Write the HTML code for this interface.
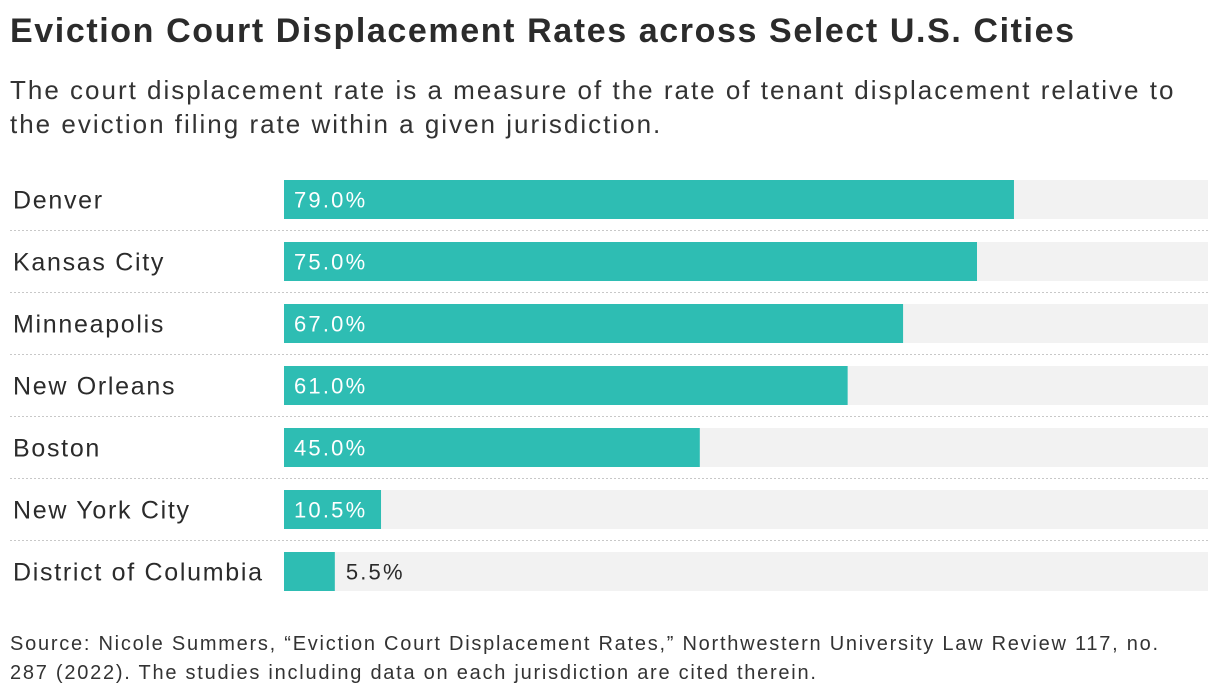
<!DOCTYPE html>
<html><head><meta charset="utf-8"><style>
body{margin:0;width:1220px;height:698px;background:#fff;font-family:"Liberation Sans",sans-serif;color:#2b2b2b;position:relative;overflow:hidden}
#title{position:absolute;left:10px;top:12px;font-size:34px;font-weight:bold;margin:0;letter-spacing:1.6px;white-space:nowrap}
#sub{position:absolute;left:10px;top:73px;font-size:26px;line-height:34px;width:1210px;color:#333;letter-spacing:2px;white-space:nowrap}
#foot{position:absolute;left:10px;top:630px;font-size:20px;line-height:29px;color:#333;width:1210px;letter-spacing:1.75px;white-space:nowrap}
</style></head><body>
<h1 id="title">Eviction Court Displacement Rates across Select U.S. Cities</h1>
<div id="sub">The court displacement rate is a measure of the rate of tenant displacement relative to<br>the eviction filing rate within a given jurisdiction.</div>
<svg id="chart" width="1220" height="698" style="position:absolute;left:0;top:0"></svg>
<div id="foot">Source: Nicole Summers, “Eviction Court Displacement Rates,” Northwestern University Law Review 117, no.<br>287 (2022). The studies including data on each jurisdiction are cited therein.</div>
<script>
const categories=["Denver","Kansas City","Minneapolis","New Orleans","Boston","New York City","District of Columbia"];
const values=[79.0,75.0,67.0,61.0,45.0,10.5,5.5];
const valueLabels=["79.0%","75.0%","67.0%","61.0%","45.0%","10.5%","5.5%"];
const svg=document.getElementById('chart');
const NS="http://www.w3.org/2000/svg";
const x0=284,trackW=924,top0=180,step=62,barH=39;
const xs=v=>v/100*trackW;
const ys=i=>top0+i*step;
function mk(t,a){const e=document.createElementNS(NS,t);for(const k in a)e.setAttribute(k,a[k]);svg.appendChild(e);return e;}
categories.forEach((c,i)=>{
  const y=ys(i);
  const tr=mk('rect',{x:x0,y:y,width:trackW,height:barH,fill:'#f2f2f2'});
  
  
  const w=xs(values[i]);
  const b=mk('rect',{x:x0,y:y,width:w,height:barH,fill:'#2ebdb3'});
  
  
  const l=mk('text',{x:13,y:y+barH/2+9,'font-size':25,fill:'#2b2b2b','letter-spacing':1.7});
  l.textContent=c;
  
  
  const inside=w>80;
  const v=mk('text',{x:inside?x0+10:x0+w+11,y:y+barH/2+8,'font-size':22,fill:inside?'#fff':'#2b2b2b','letter-spacing':2.2});
  v.textContent=valueLabels[i];
  
  
  if(i<categories.length-1){
    const s=mk('line',{x1:10,x2:1208,y1:y+barH+11.5,y2:y+barH+11.5,stroke:'#c8c8c8','stroke-width':1,'stroke-dasharray':'2,2'});
    
    
  }
});
</script>
</body></html>
